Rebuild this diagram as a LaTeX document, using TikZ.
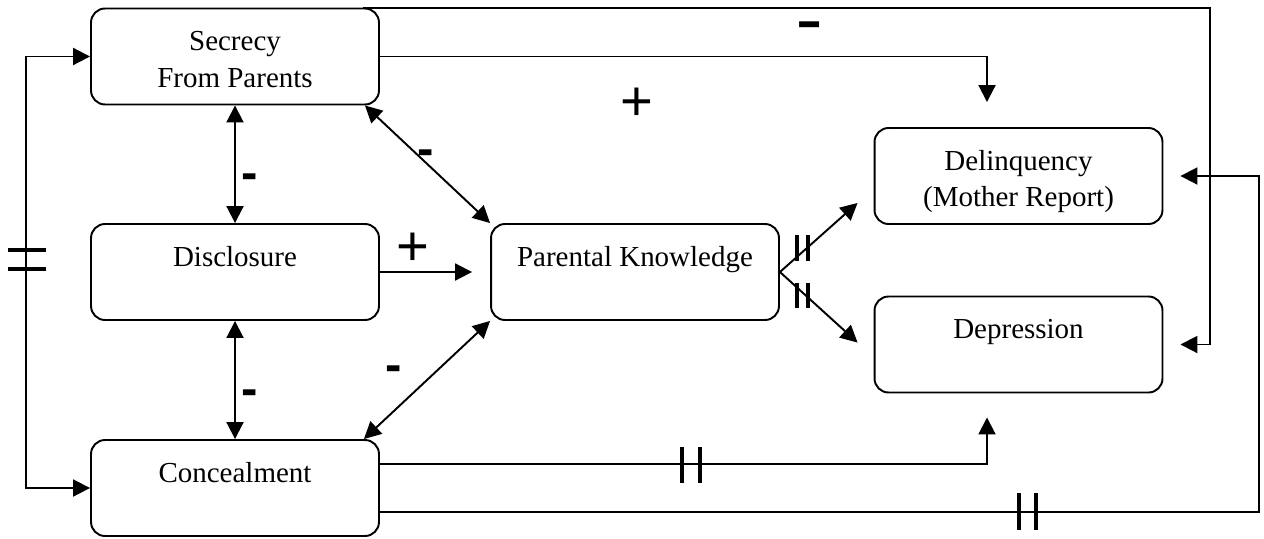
\documentclass[tikz,border=0pt]{standalone}
\usepackage{fontspec}
\setmainfont{Liberation Serif}
\newfontfamily\signfont{Liberation Sans}
\usetikzlibrary{arrows.meta,positioning,calc}

\begin{document}
\begin{tikzpicture}[
  x=0.02cm, y=-0.02cm,
  >={Triangle[length=0.34cm,width=0.34cm]},
  box/.style={
    draw,
    rounded corners=0.28cm,
    line width=1.1pt,
    minimum width=5.76cm,
    minimum height=1.92cm,
    align=center,
    text height=0.4cm,
    text depth=0.64cm,
    font=\fontsize{16.5}{21}\selectfont
  },
  flow/.style={->, line width=1.1pt},
  twoway/.style={<->, line width=1.1pt},
  tickmark/.style={line width=2.4pt},
  plus/.style={inner sep=0pt, font=\signfont\fontsize{32}{32}\selectfont},
  minus/.style={inner sep=0pt, font=\signfont\bfseries\fontsize{28}{28}\selectfont}
]

\useasboundingbox (0,0) rectangle (1264,538);

% Boxes
\node[box] (secrecy) at (235,56.5) {\begin{tabular}[t]{@{}c@{}}Secrecy\\From Parents\end{tabular}};
\node[box] (disclosure) at (235,272) {Disclosure};
\node[box] (concealment) at (235,488) {Concealment};
\node[box] (knowledge) at (635,272) {Parental Knowledge};
\node[box] (delinquency) at (1018.5,176) {\begin{tabular}[t]{@{}c@{}}Delinquency\\(Mother Report)\end{tabular}};
\node[box] (depression) at (1018.5,344.5) {Depression};

% lanes on the right
\coordinate (droplane) at (987,0);
\coordinate (innerlane) at (1210,0);
\coordinate (outerlane) at (1259,0);

% Long paths to the outcomes
\draw[flow] ($(secrecy.north east)+(-17,0)$) -- (innerlane |- secrecy.north) |- ($(depression.east)+(17,0)$);
\draw[flow] (secrecy.east) -| ($(droplane |- delinquency.north)+(0,-25)$);
\draw[flow] ($(concealment.east)+(0,-24)$) -| ($(droplane |- depression.south)+(0,24)$);
\draw[flow] ($(concealment.east)+(0,24)$) -| (outerlane |- delinquency.east) -- ($(delinquency.east)+(17,0)$);

% Left loop
\draw[twoway] (secrecy.west) -- ++(-64,0) |- (concealment.west);

% Links among the predictors
\draw[twoway] (secrecy.south) -- (disclosure.north);
\draw[twoway] (disclosure.south) -- (concealment.north);
\draw[flow] (disclosure.east) -- ($(knowledge.west)+(-18,0)$);
\draw[twoway] ($(secrecy.south east)+(-15,0)$) -- (knowledge.north west);
\draw[twoway] ($(concealment.north east)+(-16,0)$) -- (knowledge.south west);

% Knowledge fan-out
\draw[flow] (knowledge.east) -- ($(delinquency.south west)+(-16,-22)$);
\draw[flow] (knowledge.east) -- ($(depression.north west)+(-16,47)$);

% Equality marks
\foreach \x in {682,700} \draw[tickmark] (\x,447) -- (\x,483);
\foreach \x in {1019,1036} \draw[tickmark] (\x,493) -- (\x,530);
\foreach \x in {797,808} {
  \draw[tickmark] (\x,235) -- (\x,261);
  \draw[tickmark] (\x,283) -- (\x,308);
}
\foreach \y in {250,269} \draw[tickmark] (8,\y) -- (46,\y);

% Signs
\node[minus] (signtop) at (810,30) {\scalebox{1.6}[1]{-}};
\node[plus] (signsecdel) at (637,104) {+};
\node[minus] (signsecdis) at (250,182) {-};
\node[minus] (signdiscon) at (250,398) {-};
\node[minus] (signsecknow) at (426,158) {-};
\node[minus] (signconknow) at (394,374) {-};
\node[plus] (signdisknow) at (413,249) {+};

\end{tikzpicture}
\end{document}
